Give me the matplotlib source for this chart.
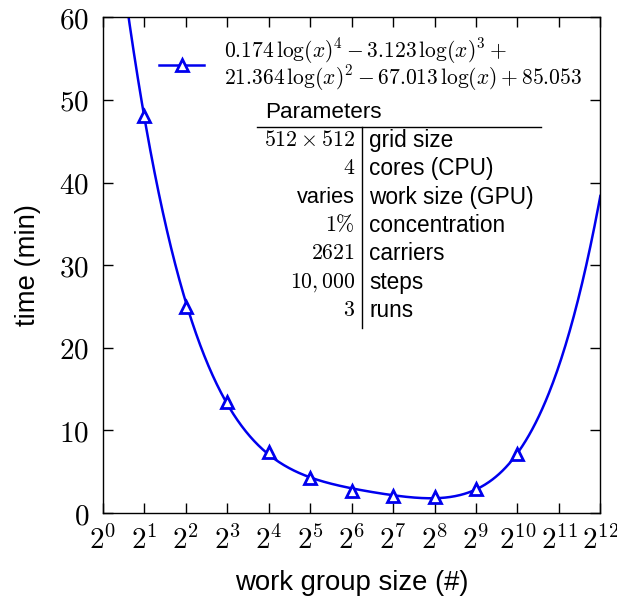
import matplotlib.pyplot as plt
import numpy as np

plt.rcParams['mathtext.fontset'] = 'cm'
plt.rcParams['font.family'] = ['Liberation Sans', 'DejaVu Sans']

# measured run times (min) per work group size exponent
exponents = [1, 2, 3, 4, 5, 6, 7, 8, 9, 10]
times = [48.0, 25.0, 13.4, 7.4, 4.3, 2.7, 2.06, 2.0, 2.9, 7.2]

fit_label = (r'$0.174\,\log(x)^4 - 3.123\,\log(x)^3 +$' + '\n'
             r'$21.364\,\log(x)^2 - 67.013\,\log(x) + 85.053$')

param_values = [r'$512\times512$', r'$4$', 'varies', r'$1\%$', r'$2621$', r'$10,000$', r'$3$']
param_names = ['grid size', 'cores (CPU)', 'work size (GPU)', 'concentration',
               'carriers', 'steps', 'runs']

fig = plt.figure(figsize=(6.17, 5.98), dpi=100)
ax = fig.add_axes([0.167, 0.142, 0.806, 0.829])

x_pts = 2.0 ** np.array(exponents)
# 4th order polynomial in ln(x) through the measurements
coeffs = np.polyfit(np.log(x_pts), times, 4)
x_fit = np.logspace(0, 12, 600, base=2)
y_fit = np.polyval(coeffs, np.log(x_fit))

blue = '#0000ee'
ax.plot(x_fit, y_fit, color=blue, lw=1.8, zorder=2)
ax.plot(x_pts, times, ls='none', marker='^', ms=8.5, mfc='white', mec=blue,
        mew=2.0, zorder=3)
ax.plot([], [], color=blue, lw=1.8, marker='^', ms=8.5, mfc='white',
        mec=blue, mew=2.0, label=fit_label)

ax.set_xscale('log', base=2)
ax.set_xlim(1, 2 ** 12)
ax.set_ylim(0, 60)
ax.set_xticks([2 ** i for i in range(13)])
ax.set_xticklabels([r'$2^{%d}$' % i for i in range(13)], fontsize=21)
ax.minorticks_off()
ax.set_yticks(range(0, 61, 10))
ax.set_yticklabels([r'$%d$' % v for v in range(0, 61, 10)], fontsize=21)
ax.tick_params(direction='in', length=7, width=1.0, top=True, right=True)
ax.tick_params(axis='x', pad=9)
ax.tick_params(axis='y', pad=10)
for s in ax.spines.values():
    s.set_linewidth(1.0)

ax.set_xlabel('work group size (#)', fontsize=19.8, labelpad=11)
ax.set_ylabel('time (min)', fontsize=19.8, labelpad=13)

leg = ax.legend(loc='upper left', bbox_to_anchor=(0.074, 1.0), frameon=False,
                fontsize=15.5, handlelength=2.1, borderaxespad=0.5, handletextpad=0.9)
for t in leg.get_texts():
    t.set_linespacing(0.85)

# parameter table
tx = 0.521
ax.text(0.326, 0.808, 'Parameters', transform=ax.transAxes, fontsize=16.2,
        ha='left', va='center')
ax.plot([0.31, 0.881], [0.778, 0.778], transform=ax.transAxes, color='black', lw=1.0)
ax.plot([tx, tx], [0.778, 0.374], transform=ax.transAxes, color='black', lw=1.0)
row_y = 0.7515 - np.arange(len(param_names)) * 0.0572
for yy, val, name in zip(row_y, param_values, param_names):
    ax.text(tx - 0.014, yy, val, transform=ax.transAxes, fontsize=15.7,
            ha='right', va='center')
    ax.text(tx + 0.014, yy, name, transform=ax.transAxes, fontsize=16.3,
            ha='left', va='center')

fig.savefig('out.png', dpi=100)
